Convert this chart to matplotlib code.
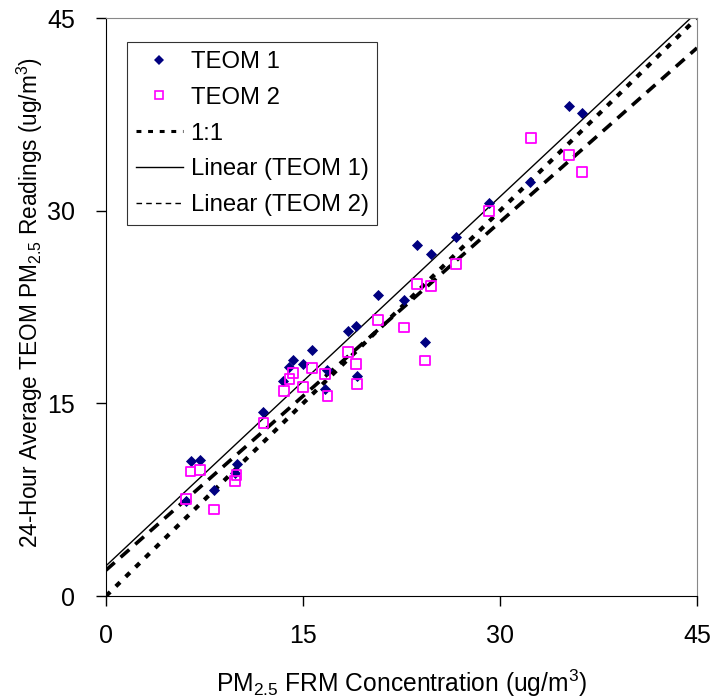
import numpy as np
import matplotlib
matplotlib.use("Agg")
import matplotlib.pyplot as plt
from matplotlib.lines import Line2D

plt.rcParams['font.family'] = ['Liberation Sans', 'DejaVu Sans']
plt.rcParams['mathtext.fontset'] = 'custom'
plt.rcParams['mathtext.rm'] = 'Liberation Sans'
plt.rcParams['mathtext.it'] = 'Liberation Sans'
plt.rcParams['mathtext.default'] = 'regular'

frm1 = [6.08, 6.44, 7.17, 8.24, 9.86, 9.94, 11.99, 13.51, 13.97, 14.25, 14.98, 15.69, 16.70, 16.86,
        18.40, 19.01, 19.09, 20.71, 22.69, 23.65, 24.28, 24.77, 26.64, 29.15, 32.29, 35.25, 36.27]
teom1 = [7.36, 10.51, 10.60, 8.29, 9.58, 10.31, 14.32, 16.73, 17.82, 18.36, 18.10, 19.17, 16.08, 17.56,
         20.64, 21.00, 17.09, 23.47, 23.05, 27.33, 19.81, 26.60, 27.97, 30.56, 32.27, 38.16, 37.58]

frm2 = [6.08, 6.44, 7.17, 8.24, 9.94, 9.84, 11.99, 13.54, 13.97, 14.25, 14.98, 15.69, 16.70, 16.86,
        18.40, 19.01, 19.09, 20.71, 22.69, 23.65, 24.77, 24.28, 26.64, 29.15, 32.33, 35.25, 36.27]
teom2 = [7.56, 9.69, 9.79, 6.74, 9.43, 8.94, 13.44, 15.98, 16.89, 17.38, 16.26, 17.72, 17.27, 15.54,
         18.98, 18.08, 16.52, 21.47, 20.90, 24.30, 24.11, 18.34, 25.85, 29.97, 35.66, 34.35, 33.04]

ticks = [0, 15, 30, 45]
xr = np.array([0, 45])

fig = plt.figure(figsize=(7.11, 6.98), dpi=100)
ax = fig.add_axes([106/711, 102/698, 591/711, 578/698])

ax.scatter(frm1, teom1, marker='D', s=32, color='#000080', zorder=3, linewidths=0)
ax.scatter(frm2, teom2, marker='s', s=50, facecolors='none', edgecolors='#FF00FF', linewidths=1.3,
           zorder=3)

ax.plot(xr, xr, color='black', lw=3, linestyle=(0, (1.4, 1.9)))
m1, b1 = np.polyfit(frm1, teom1, 1)
ax.plot(xr, m1 * xr + b1, color='black', lw=1)
m2, b2 = np.polyfit(frm2, teom2, 1)
ax.plot(xr, m2 * xr + b2, color='black', lw=2.6, linestyle=(0, (3.2, 2.2)))

ax.set_xlim(0, 45)
ax.set_ylim(0, 45)
ax.set_xticks(ticks)
ax.set_yticks(ticks)
ax.tick_params(direction='out', length=7, width=1, labelsize=18)
ax.tick_params(axis='y', pad=15.5)
ax.tick_params(axis='x', pad=13)
for s in ['top', 'right']:
    ax.spines[s].set_color('#888888')
for s in ['left', 'bottom']:
    ax.spines[s].set_color('black')

ax.set_xlabel('PM$_{2.5}$ FRM Concentration (ug/m$^3$)', fontsize=17.7)
ax.xaxis.set_label_coords(0.5, (596 - 683) / 578)
ax.xaxis.label.set_va('center')
ax.set_ylabel('24-Hour Average TEOM PM$_{2.5}$ Readings (ug/m$^3$)', fontsize=16.3)
ax.yaxis.set_label_coords((30 - 106) / 591, 0.508)
ax.yaxis.label.set_va('center')

handles = [
    Line2D([], [], ls='none', marker='D', ms=5, color='#000080', mew=0),
    Line2D([], [], ls='none', marker='s', ms=6, mfc='none', mec='#FF00FF', mew=1.2),
    Line2D([], [], color='black', lw=2.2, ls=(0, (1.6, 2.2))),
    Line2D([], [], color='black', lw=1),
    Line2D([], [], color='black', lw=1, ls=(0, (4, 3))),
]
labels = ['TEOM 1', 'TEOM 2', '1:1', 'Linear (TEOM 1)', 'Linear (TEOM 2)']
leg = ax.legend(handles, labels, loc='upper left', bbox_to_anchor=(0.0355, 0.958), fontsize=17.2,
                frameon=True, fancybox=False, edgecolor='black', handlelength=2.0,
                handletextpad=0.3, borderpad=0.36, labelspacing=0.58, borderaxespad=0)
leg.get_frame().set_linewidth(0.8)

fig.savefig('out.png', dpi=100)
